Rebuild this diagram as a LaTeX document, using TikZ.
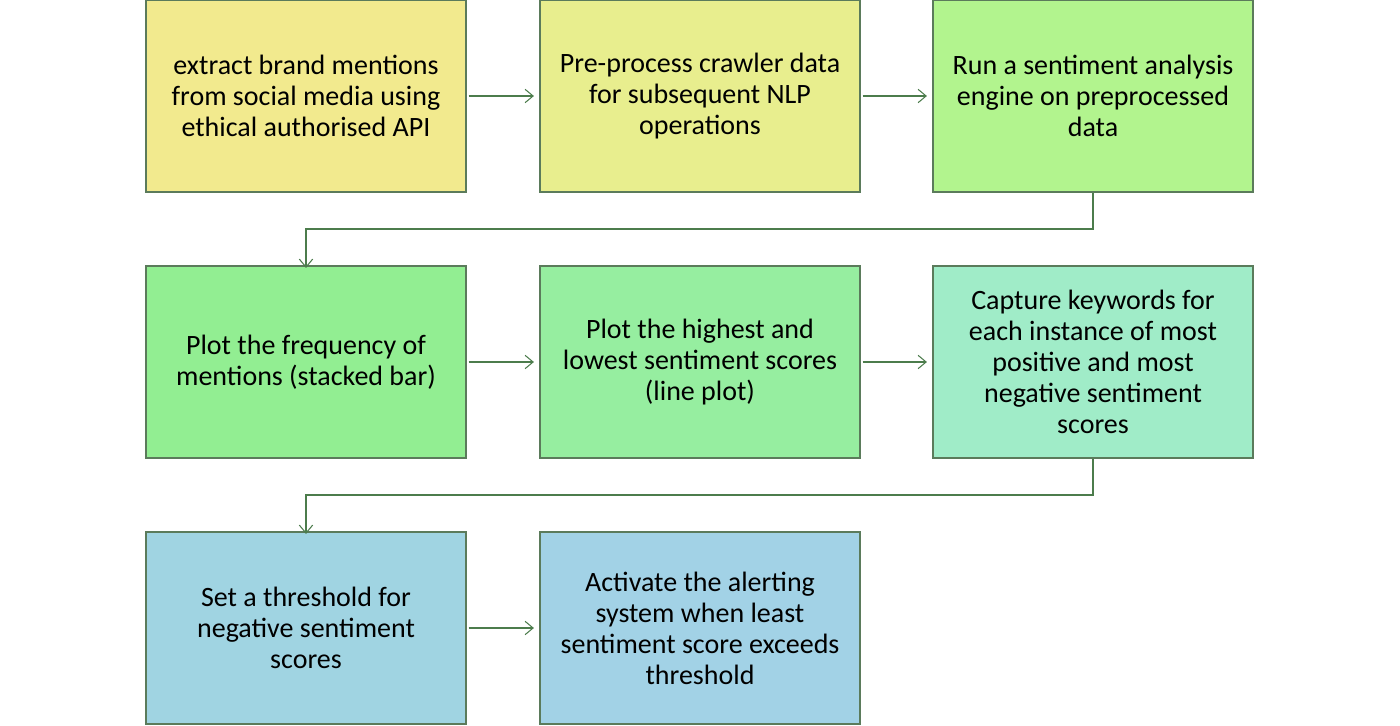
\documentclass[tikz,border=0pt]{standalone}
\usepackage{fontspec}
\setmainfont{Carlito}
\usetikzlibrary{arrows.meta}
\definecolor{bdr}{HTML}{5B7B5B}
\definecolor{arr}{HTML}{4C7C4C}
\definecolor{cA}{HTML}{F2EA8E}
\definecolor{cB}{HTML}{E8EE8E}
\definecolor{cC}{HTML}{B2F48E}
\definecolor{cD}{HTML}{92EE92}
\definecolor{cE}{HTML}{96EEA0}
\definecolor{cF}{HTML}{A0ECC8}
\definecolor{cG}{HTML}{A0D4E2}
\definecolor{cH}{HTML}{A2D2E6}
\tikzset{
  stepbox/.style={draw=bdr, line width=1.1pt, minimum width=240pt, minimum height=144pt,
    inner sep=0pt, align=center, font=\fontsize{21}{23.25}\selectfont, text=black},
  flow/.style={draw=arr, line width=0.8pt, -{Straight Barb[length=6pt,width=10pt,line width=0.8pt]}}
}
\begin{document}
\begin{tikzpicture}[x=0.75pt,y=-0.75pt]
\useasboundingbox (0,0) rectangle (1400,725);
\node[stepbox, fill=cA] (a) at (306,96) {extract brand mentions\\from social media using\\ethical authorised API};
\node[stepbox, fill=cB] (b) at (700,96) {Pre-process crawler data\\for subsequent NLP\\operations};
\node[stepbox, fill=cC] (c) at (1093,96) {Run a sentiment analysis\\engine on preprocessed\\data};
\node[stepbox, fill=cD] (d) at (306,362) {Plot the frequency of\\mentions (stacked bar)};
\node[stepbox, fill=cE] (e) at (700,362) {Plot the highest and\\lowest sentiment scores\\(line plot)};
\node[stepbox, fill=cF] (f) at (1093,362) {Capture keywords for\\each instance of most\\positive and most\\negative sentiment\\scores};
\node[stepbox, fill=cG] (g) at (306,628) {Set a threshold for\\negative sentiment\\scores};
\node[stepbox, fill=cH] (h) at (700,628) {Activate the alerting\\system when least\\sentiment score exceeds\\threshold};
\coordinate (k1) at (1093,229);
\coordinate (k2) at (306,229);
\coordinate (k3) at (1093,495);
\coordinate (k4) at (306,495);
\draw[flow] (a.east) ++(2,0) -- ([xshift=-4]b.west);
\draw[flow] (b.east) ++(2,0) -- ([xshift=-4]c.west);
\draw[flow] (c.south) -- (k1) -- (k2) -- ([yshift=-2]d.north);
\draw[flow] (d.east) ++(2,0) -- ([xshift=-4]e.west);
\draw[flow] (e.east) ++(2,0) -- ([xshift=-4]f.west);
\draw[flow] (f.south) -- (k3) -- (k4) -- ([yshift=-2]g.north);
\draw[flow] (g.east) ++(2,0) -- ([xshift=-4]h.west);
\end{tikzpicture}
\end{document}
